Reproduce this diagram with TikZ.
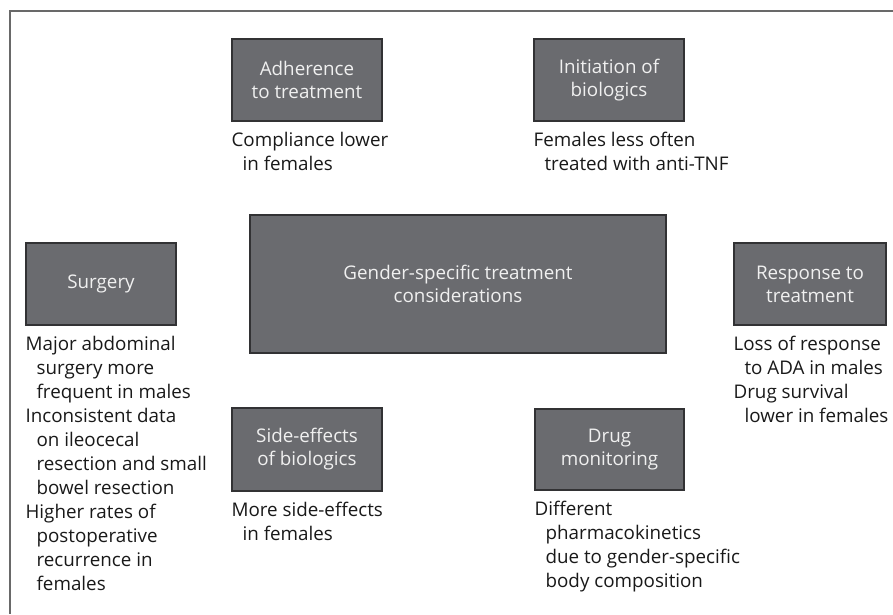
\documentclass[tikz,border=0pt]{standalone}
\usepackage{fontspec}
\setmainfont{Open Sans}
\usetikzlibrary{positioning}

\definecolor{boxfill}{RGB}{106,107,111}
\definecolor{boxline}{RGB}{50,50,52}
\definecolor{frameline}{RGB}{105,105,105}
\definecolor{desctext}{RGB}{25,25,25}

\tikzset{
  topic/.style={draw=boxline, line width=1.2pt, fill=boxfill, text=white!94!black,
    align=center, minimum width=150pt, minimum height=82pt, inner sep=0pt,
    font=\fontsize{18.8}{23}\selectfont},
  desc/.style={align=left, anchor=north west, inner sep=0pt, text=desctext,
    font=\fontsize{18.8}{24}\selectfont}
}
% indent for wrapped lines of a finding
\newcommand{\wrapin}{\hspace*{11pt}}

\begin{document}
\begin{tikzpicture}[x=1pt,y=-1pt]
    \useasboundingbox (0,0) rectangle (893,614);
    \draw[frameline,line width=1.3pt] (893,11) -- (10,11) -- (10,614);

    % central box
    \node[topic, minimum width=416pt, minimum height=138pt, text depth=-6pt] (gender) at (458,284)
        {Gender-specific treatment\\considerations};

    % top row
    \node[topic] (adh) at (307,80) {Adherence\\to treatment};
    \node[topic] (init) at (609,80) {Initiation of\\biologics};
    \node[desc, below=10pt of adh.south west, anchor=north west] (adhtxt)
        {Compliance lower\\\wrapin in females};
    \node[desc, below=10pt of init.south west, anchor=north west] (inittxt)
        {Females less often\\\wrapin treated with anti-TNF};

    % middle row
    \node[topic] (surg) at (101,284) {Surgery};
    \node[topic, minimum width=152pt] (resp) at (810,284) {Response to\\treatment};
    \node[desc, below=10pt of surg.south west, anchor=north west] (surgtxt)
        {Major abdominal\\\wrapin surgery more\\\wrapin frequent in males\\
         Inconsistent data\\\wrapin on ileocecal\\\wrapin resection and small\\\wrapin bowel resection\\
         Higher rates of\\\wrapin postoperative\\\wrapin recurrence in\\\wrapin females};
    \node[desc, below=10pt of resp.south west, anchor=north west] (resptxt)
        {Loss of response\\\wrapin to ADA in males\\Drug survival\\\wrapin lower in females};

    % bottom row
    \node[topic, minimum height=83pt] (side) at (307,449.5) {Side-effects\\of biologics};
    \node[topic, minimum width=149pt, minimum height=81pt] (drug) at (609.5,449.5) {Drug\\monitoring};
    \node[desc, below=10pt of side.south west, anchor=north west] (sidetxt)
        {More side-effects\\\wrapin in females};
    \node[desc, below=10pt of drug.south west, anchor=north west] (drugtxt)
        {Different\\\wrapin pharmacokinetics\\\wrapin due to gender-specific\\\wrapin body composition};
\end{tikzpicture}
\end{document}
